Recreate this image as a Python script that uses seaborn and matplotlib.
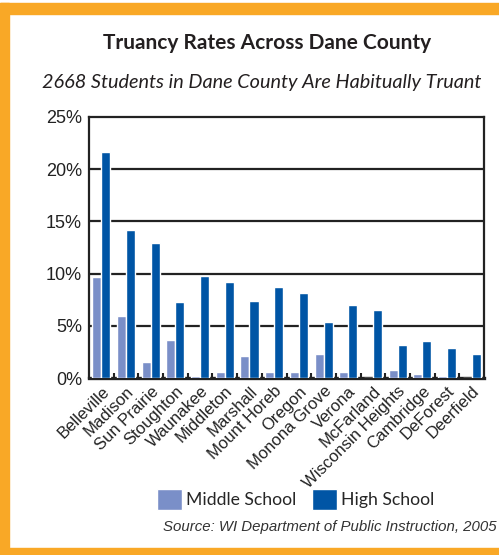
import pandas as pd
import matplotlib
matplotlib.use("Agg")
import matplotlib.pyplot as plt
import seaborn as sns
from matplotlib.patches import Rectangle, Patch

# truancy rates (%)
districts = ['Belleville', 'Madison', 'Sun Prairie', 'Stoughton', 'Waunakee',
             'Middleton', 'Marshall', 'Mount Horeb', 'Oregon', 'Monona Grove',
             'Verona', 'McFarland', 'Wisconsin Heights', 'Cambridge',
             'DeForest', 'Deerfield']
middle_school = [9.7, 5.9, 1.5, 3.6, 0.2, 0.6, 2.1, 0.6, 0.6, 2.3,
                 0.6, 0.0, 0.8, 0.4, 0.2, 0.0]
high_school = [21.6, 14.2, 12.9, 7.3, 9.8, 9.2, 7.4, 8.7, 8.1, 5.4,
               7.0, 6.5, 3.2, 3.5, 2.9, 2.3]
y_ticks = [0, 5, 10, 15, 20, 25]

df = pd.DataFrame({
    'district': districts * 2,
    'rate': middle_school + high_school,
    'level': ['Middle School'] * len(districts) + ['High School'] * len(districts),
})

ms_color = '#7a8fc8'
hs_color = '#0055a5'
orange = '#f9a826'

sns.set_theme(style="white")
plt.rcParams['font.family'] = ['Liberation Sans', 'DejaVu Sans']

fig = plt.figure(figsize=(4.99, 5.55), dpi=100)
ax = fig.add_axes([0.1784, 0.3189, 0.7916, 0.4703])

sns.barplot(data=df, x='district', y='rate', hue='level',
            palette={'Middle School': ms_color, 'High School': hs_color},
            width=0.73, gap=0, saturation=1, legend=False, ax=ax, zorder=3)

ax.set_ylim(0, 25)
ax.set_xlim(-0.5, len(districts) - 0.5)
ax.set_yticks(y_ticks)
ax.set_yticklabels([f"{t}%" for t in y_ticks], fontsize=13, color='#222222')
for t in y_ticks[1:-1]:
    ax.axhline(t, color='#222222', lw=1.6, zorder=1)

ax.set_xticks(range(len(districts)))
ax.set_xticklabels(districts, rotation=45, ha='right', rotation_mode='anchor',
                   fontsize=12, color='#222222')
ax.tick_params(axis='x', length=0, pad=4)
ax.tick_params(axis='y', length=0, pad=5)

# small upward ticks between the district groups
for b in range(1, len(districts)):
    ax.plot([b - 0.5, b - 0.5], [0, 0.5], color='#222222', lw=1.5,
            solid_capstyle='butt', zorder=4, clip_on=False)

ax.set_xlabel('')
ax.set_ylabel('')
for s in ax.spines.values():
    s.set_color('#222222')
    s.set_linewidth(1.6)
ax.spines['bottom'].set_linewidth(2.4)

# titles
fig.text(0.535, 0.922, 'Truancy Rates Across Dane County', ha='center',
         va='center', fontsize=15, fontweight='bold', family='Lato',
         color='#231f20')
fig.text(0.525, 0.852, '2668 Students in Dane County Are Habitually Truant',
         ha='center', va='center', fontsize=14.3, style='italic', family='Lato',
         color='#231f20')

# legend
handles = [Patch(facecolor=ms_color, label='Middle School'),
           Patch(facecolor=hs_color, label='High School')]
fig.legend(handles=handles, loc='center', bbox_to_anchor=(0.592, 0.1),
           ncol=2, frameon=False, handlelength=1.45,
           handleheight=1.45, handletextpad=0.2, columnspacing=0.9,
           prop={'family': 'Lato', 'size': 12.7})

fig.text(0.995, 0.05, 'Source: WI Department of Public Instruction, 2005',
         ha='right', va='center', fontsize=10.8, style='italic', color='#333333')

# orange frame
fig.patches.append(Rectangle((0, 1 - 14 / 555), 1, 11 / 555,
                             transform=fig.transFigure, color=orange, zorder=0))
fig.patches.append(Rectangle((0, 0), 9 / 499, 1 - 3 / 555,
                             transform=fig.transFigure, color=orange, zorder=0))
fig.patches.append(Rectangle((0, 0), 1, 7 / 555,
                             transform=fig.transFigure, color=orange, zorder=0))

fig.savefig('out.png', dpi=100)
